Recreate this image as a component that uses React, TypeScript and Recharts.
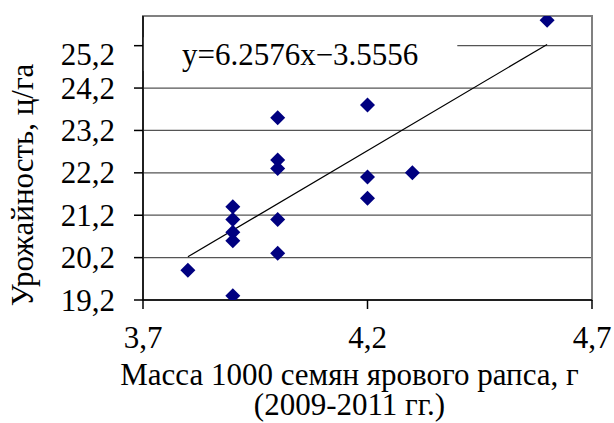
import React from 'react';
import { ScatterChart, Scatter, XAxis, YAxis, CartesianGrid, ReferenceArea } from 'recharts';

// Data
const massX = [3.8, 3.9, 3.9, 3.9, 3.9, 3.9, 4.0, 4.0, 4.0, 4.0, 4.0, 4.2, 4.2, 4.2, 4.3, 4.6];
const yieldY = [19.9, 19.3, 21.4, 21.1, 20.8, 20.6, 23.5, 22.5, 22.3, 21.1, 20.3, 23.8, 22.1, 21.6, 22.2, 25.8];
const trendX = [3.8, 4.6];
const trendY = [20.22, 25.23];
const xTicks = [3.7, 4.2, 4.7];
const yTicks = [19.2, 20.2, 21.2, 22.2, 23.2, 24.2, 25.2];
const xDomain = [3.7, 4.7];
const yDomain = [19.2, 25.9];
const equation = 'y=6.2576x−3.5556';
const xLabel1 = 'Масса 1000 семян ярового рапса, г';
const xLabel2 = '(2009-2011 гг.)';
const yLabel = 'Урожайность, ц/га';

const points = massX.map((x, i) => ({ x, y: yieldY[i] }));
const trend = trendX.map((x, i) => ({ x, y: trendY[i] }));

const FONT = "'Liberation Serif', 'Times New Roman', serif";
const FS = 31;
const TXT: React.CSSProperties = { fontFamily: FONT, fontSize: FS, fill: '#000' };

const fmt = (v: number) => v.toFixed(1).replace('.', ',');

const Diamond = (props: any) => {
  const { cx, cy } = props;
  if (cx == null || cy == null) return <g />;
  const r = 7.5;
  return (
    <path
      d={`M${cx},${cy - r}L${cx + r},${cy}L${cx},${cy + r}L${cx - r},${cy}Z`}
      fill="#000080"
    />
  );
};

const YTick = (props: any) => {
  const { x, y, payload } = props;
  const extra = payload.value === 25.2 ? 9 : 0;
  return (
    <text x={x} y={y + extra + 10.5} textAnchor="end" style={TXT}>
      {fmt(payload.value)}
    </text>
  );
};

const XTick = (props: any) => {
  const { x, y, payload } = props;
  return (
    <text x={x} y={y + 22} textAnchor="middle" style={TXT}>
      {fmt(payload.value)}
    </text>
  );
};

const renderYLabel = (props: any) => {
  const vb = props.viewBox || { x: 0, y: 16, width: 143, height: 284 };
  const cx = vb.x + 33;
  const cy = vb.y + vb.height / 2 + 27;
  return (
    <text
      transform={`translate(${cx},${cy}) rotate(-90)`}
      textAnchor="middle"
      style={TXT}
    >
      {yLabel}
    </text>
  );
};

const renderXLabel = (props: any) => {
  const vb = props.viewBox || { x: 143, y: 300, width: 449, height: 123 };
  const cx = vb.x + vb.width / 2 - 18;
  return (
    <text textAnchor="middle" style={TXT}>
      <tspan x={cx} y={vb.y + 85}>{xLabel1}</tspan>
      <tspan x={cx} y={vb.y + 115}>{xLabel2}</tspan>
    </text>
  );
};

const renderEquation = (props: any) => {
  const vb = props.viewBox || { x: 143, y: 37, width: 314, height: 34 };
  return (
    <text
      x={vb.x + vb.width / 2}
      y={vb.y + vb.height / 2 + 11}
      textAnchor="middle"
      style={TXT}
    >
      {equation}
    </text>
  );
};

export default function App() {
  return (
    <div style={{ width: 614, height: 423, fontFamily: FONT }}>
      <style>{'html,body{margin:0;padding:0;overflow:hidden}'}</style>
      <ScatterChart
        width={614}
        height={423}
        margin={{ top: 16, right: 22, bottom: 0, left: 0 }}
      >
        <CartesianGrid vertical={false} stroke="#555" strokeWidth={1.2} />
        <ReferenceArea
          x1={xDomain[0]}
          x2={xDomain[1]}
          y1={yDomain[0]}
          y2={yDomain[1]}
          fill="none"
          stroke="#808080"
          strokeWidth={2}
          ifOverflow="visible"
        />
        <ReferenceArea
          x1={3.7}
          x2={4.4}
          y1={24.6}
          y2={25.4}
          fill="#fff"
          fillOpacity={1}
          stroke="none"
          label={{ content: renderEquation }}
        />
        <XAxis
          type="number"
          dataKey="x"
          domain={xDomain}
          ticks={xTicks}
          interval={0}
          height={123}
          tickSize={9}
          tickMargin={17}
          stroke="#000"
          strokeWidth={1.5}
          tick={<XTick />}
          label={{ content: renderXLabel }}
          allowDataOverflow
        />
        <YAxis
          type="number"
          dataKey="y"
          domain={yDomain}
          ticks={yTicks}
          interval={0}
          width={143}
          tickSize={9}
          tickMargin={19}
          stroke="#000"
          strokeWidth={1.5}
          tick={<YTick />}
          label={{ content: renderYLabel }}
          allowDataOverflow
        />
        <Scatter
          data={trend}
          line={{ stroke: '#000', strokeWidth: 1.2 }}
          shape={() => <g />}
          isAnimationActive={false}
        />
        <Scatter data={points} shape={<Diamond />} isAnimationActive={false} />
      </ScatterChart>
    </div>
  );
}
